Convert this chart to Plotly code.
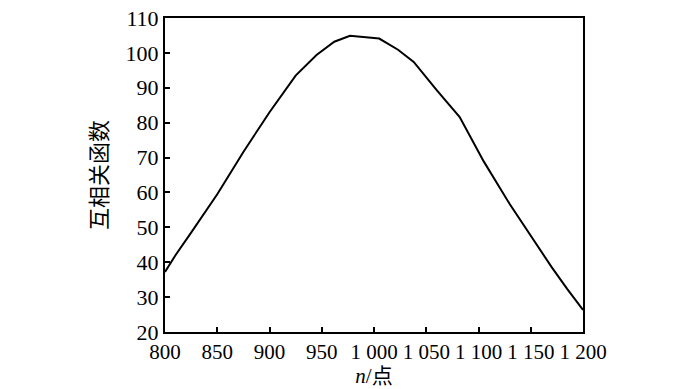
import plotly.graph_objects as go

n_points = [800, 810, 825, 850, 875, 900, 925, 945, 962, 977, 1005, 1023, 1038,
            1060, 1082, 1105, 1130, 1152, 1170, 1185, 1200]
xcorr = [37.2, 42.0, 48.5, 59.5, 71.6, 83.0, 93.5, 99.4, 103.2, 104.9, 104.1, 100.9,
         97.4, 89.3, 81.6, 68.9, 56.6, 46.5, 38.6, 32.3, 26.3]

x_ticks = [800, 850, 900, 950, 1000, 1050, 1100, 1150, 1200]
x_tick_labels = ["800", "850", "900", "950", "1 000", "1 050", "1 100", "1 150", "1 200"]
y_ticks = [20, 30, 40, 50, 60, 70, 80, 90, 100, 110]

font_serif = "Liberation Serif, Times New Roman, serif"

fig = go.Figure()
fig.add_trace(go.Scatter(x=n_points, y=xcorr, mode="lines",
                         line=dict(color="black", width=2), showlegend=False))

fig.update_layout(
    width=700, height=389,
    margin=dict(l=165, r=117, t=6, b=56),
    paper_bgcolor="white", plot_bgcolor="white",
    font=dict(family=font_serif, size=22, color="black"),
    xaxis=dict(range=[800, 1200], tickvals=x_ticks, ticktext=x_tick_labels,
               tickfont=dict(size=21),
               ticks="inside", ticklen=5, tickwidth=2, tickcolor="black",
               showline=True, linewidth=2, linecolor="black", mirror=True,
               showgrid=False, zeroline=False, ticklabeloverflow="allow",
               title=dict(text="<i>n</i>/点", standoff=4,
                          font=dict(family="Liberation Serif, Noto Sans CJK SC", size=21))),
    yaxis=dict(range=[20, 110], tickvals=y_ticks,
               ticks="inside", ticklen=5, tickwidth=2, tickcolor="black",
               showline=True, linewidth=2, linecolor="black", mirror=True,
               showgrid=False, zeroline=False, ticklabeloverflow="allow",
               title=dict(text="互相关函数", standoff=12,
                          font=dict(family="Noto Sans CJK SC", size=22))),
)

fig.write_html("out.html")
